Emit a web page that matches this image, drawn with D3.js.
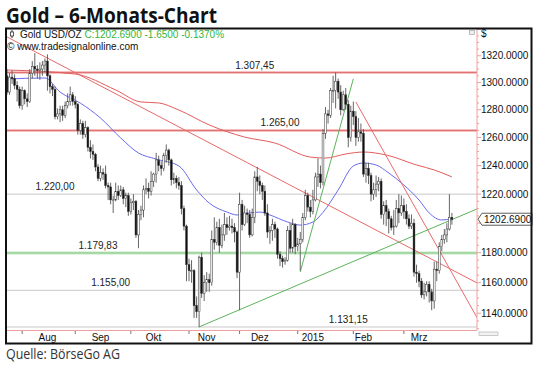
<!DOCTYPE html>
<html>
<head>
<meta charset="utf-8">
<script src="https://cdn.jsdelivr.net/npm/d3@7"></script>
<style>
body { margin: 0; background: #fff; }
svg { display: block; }
</style>
</head>
<body>
<svg id="drawing_region"></svg>
<script>
// trading days (weekdays) from 24 Jul 2014, incl. two empty weeks on the right
const tradingDays = [];
for (let t = Date.UTC(2014, 6, 24); t <= Date.UTC(2015, 3, 10); t += 864e5) {
    const wd = new Date(t).getUTCDay();
    if (wd !== 0 && wd !== 6) tradingDays.push(new Date(t).toISOString().slice(0, 10));
}

// daily bars: [open, high, low, close]
const bars = [
    [1305,1310,1291,1293],[1293,1307,1291,1304],[1304,1309,1299,1303],[1303,1306,1295,1298],[1298,1301,1286,1295],[1295,1297,1281,1283],
    [1283,1297,1280,1294],[1294,1295,1284,1288],[1288,1292,1282,1286],[1286,1310,1285,1307],[1307,1316,1303,1312],[1312,1322,1305,1310],
    [1310,1313,1303,1309],[1309,1315,1302,1310],[1310,1316,1305,1313],[1313,1318,1308,1316],[1316,1321,1294,1305],
    [1305,1306,1292,1297],[1297,1299,1290,1295],[1295,1297,1273,1275],[1275,1281,1273,1277],[1277,1283,1271,1280],
    [1280,1283,1272,1276],[1276,1286,1274,1283],[1283,1292,1281,1286],[1286,1297,1283,1291],[1291,1293,1283,1286],
    [1286,1290,1281,1284],[1284,1285,1262,1265],[1265,1273,1262,1270],[1270,1272,1259,1262],[1262,1272,1260,1267],
    [1267,1268,1250,1253],[1253,1258,1245,1250],[1250,1255,1244,1248],[1248,1249,1236,1239],[1239,1241,1229,1231],
    [1231,1240,1229,1235],[1235,1238,1230,1234],[1234,1240,1224,1226],[1226,1228,1216,1225],[1225,1228,1213,1216],
    [1216,1219,1207,1216],[1216,1228,1215,1222],[1222,1226,1216,1219],[1219,1226,1218,1223],[1223,1225,1213,1217],
    [1217,1221,1211,1219],[1219,1221,1205,1208],
    [1208,1217,1206,1214],[1214,1220,1209,1215],[1215,1216,1190,1192],
    [1192,1209,1183,1206],[1206,1212,1202,1209],[1209,1226,1204,1223],[1223,1231,1220,1224],[1224,1228,1217,1222],
    [1222,1236,1219,1229],[1229,1235,1225,1234],[1234,1249,1228,1244],[1244,1247,1236,1240],[1240,1243,1233,1238],
    [1238,1249,1236,1247],[1247,1255,1242,1251],[1251,1252,1240,1244],[1244,1245,1226,1230],[1230,1235,1227,1231],
    [1231,1233,1224,1228],[1228,1232,1223,1226],[1226,1229,1206,1210],[1210,1212,1195,1198],[1198,1199,1161,1172],
    [1172,1176,1161,1168],[1168,1175,1160,1168],[1168,1169,1137,1145],[1145,1151,1137,1141],[1141,1178,1131,1177],
    [1177,1180,1150,1153],[1153,1165,1148,1160],[1160,1167,1154,1162],[1162,1166,1154,1160],[1160,1195,1158,1189],
    [1189,1204,1182,1187],[1187,1201,1185,1197],[1197,1203,1180,1185],[1185,1199,1183,1192],[1192,1207,1188,1199],
    [1199,1204,1192,1197],[1197,1205,1195,1198],[1198,1203,1193,1197],[1197,1200,1187,1194],[1194,1195,1163,1167],
    [1167,1221,1142,1213],[1213,1216,1195,1199],[1199,1212,1198,1207],[1207,1210,1200,1206],[1206,1209,1190,1192],
    [1192,1210,1191,1204],[1204,1236,1200,1232],[1232,1239,1222,1229],[1229,1233,1220,1226],[1226,1228,1216,1222],
    [1222,1226,1205,1207],[1207,1213,1190,1194],[1194,1198,1186,1195],[1195,1203,1188,1199],[1199,1201,1190,1196],
    [1196,1197,1176,1179],[1179,1181,1171,1176],[1176,1178,1170,1174],[1174,1177,1172,1175],[1175,1198,1174,1195],
    [1195,1200,1180,1183],[1183,1203,1180,1199],[1199,1200,1179,1184],
    [1184,1190,1181,1186],[1186,1194,1168,1189],
    [1189,1207,1187,1204],[1204,1223,1202,1219],[1219,1221,1208,1211],[1211,1216,1204,1208],[1208,1223,1206,1216],
    [1216,1235,1215,1232],[1232,1245,1225,1234],[1234,1240,1224,1228],[1228,1266,1226,1263],[1263,1282,1259,1277],
    [1277,1280,1270,1276],[1276,1296,1274,1294],[1294,1305,1285,1294],[1294,1307.45,1281,1301],[1301,1303,1288,1293],
    [1293,1298,1276,1280],[1280,1294,1279,1291],[1291,1296,1280,1284],[1284,1287,1253,1260],[1260,1283,1257,1279],
    [1279,1286,1269,1275],[1275,1279,1254,1260],[1260,1274,1257,1264],[1264,1270,1257,1263],[1263,1266,1232,1234],
    [1234,1242,1228,1238],[1238,1242,1227,1233],[1233,1235,1215,1220],[1220,1228,1216,1223],[1223,1233,1218,1227],
    [1227,1232,1222,1229],[1229,1231,1203,1206],[1206,1215,1199,1212],[1212,1216,1198,1208],[1208,1210,1193,1203],
    [1203,1205,1195,1197],[1197,1209,1192,1198],[1198,1216,1197,1210],[1210,1220,1200,1207],[1207,1219,1205,1212],
    [1212,1217,1203,1208],[1208,1213,1199,1203],[1203,1206,1196,1198],[1198,1206,1196,1200],[1200,1203,1164,1167],
    [1167,1172,1160,1166],[1166,1168,1157,1161],[1161,1163,1150,1152],[1152,1160,1149,1154],[1154,1161,1151,1159],
    [1159,1161,1147,1154],[1154,1156,1142,1148],[1148,1174,1143,1169],[1169,1174,1161,1168],[1168,1187,1166,1184],
    [1184,1192,1181,1189],[1189,1196,1186,1192],[1192,1200,1187,1196],[1196,1220,1195,1204],[1204,1207,1199,1202.69]
];

// moving averages: [date, value]
const maShort = [
    ["2014-07-24",1302.6],["2014-08-14",1303.4],["2014-08-22",1293.0],["2014-09-03",1284.9],["2014-09-15",1274.0],
    ["2014-09-25",1259.6],["2014-10-06",1248.9],["2014-10-15",1244.6],["2014-10-28",1239.7],["2014-11-06",1222.9],
    ["2014-11-13",1213.8],["2014-11-24",1207.6],["2014-11-28",1205.6],["2014-12-05",1207.0],["2014-12-11",1207.6],
    ["2014-12-17",1205.6],["2014-12-26",1200.8],["2015-01-02",1198.7],["2015-01-09",1200.8],["2015-01-15",1207.4],
    ["2015-01-23",1222.9],["2015-02-02",1239.7],["2015-02-06",1241.8],["2015-02-13",1240.4],["2015-02-20",1234.8],
    ["2015-03-02",1226.3],["2015-03-10",1215.9],["2015-03-16",1207.0],["2015-03-23",1202.2],["2015-03-27",1202.9]
];
const maLong = [
    ["2014-07-24",1309.3],["2014-09-01",1306.3],["2014-09-23",1294.5],["2014-10-07",1285.7],["2014-10-16",1285.0],
    ["2014-10-28",1279.8],["2014-11-13",1269.0],["2014-12-03",1260.3],["2014-12-19",1256.0],["2015-01-08",1246.0],
    ["2015-01-16",1245.3],["2015-01-28",1248.2],["2015-02-06",1249.6],["2015-02-19",1247.5],["2015-03-09",1240.4],
    ["2015-03-18",1236.9],["2015-03-27",1232.0]
];

// horizontal levels
const levelValues = [1307.45, 1265.00, 1220.00, 1179.83, 1155.00, 1131.15];
const levelLabels = ["1.307,45", "1.265,00", "1.220,00", "1.179,83", "1.155,00", "1.131,15"];
const levelKinds  = ["red", "red", "gray", "green", "gray", "gray"];
const levelLabelDates = ["2014-12-09", "2014-12-23", "2014-08-20", "2014-09-12", "2014-09-19", "2015-01-29"];

// trend lines: [date, price] -> [date, price]
const trendLines = [
    [["2014-07-24",1334.2], ["2015-04-10",1159.8]],
    [["2015-02-03",1285.7], ["2015-04-10",1137.0]],
    [["2014-11-07",1131.2], ["2015-04-10",1209.8]],
    [["2015-01-02",1167.1], ["2015-02-02",1302.8]]
];
const trendKinds = ["red", "red", "green", "green"];

// 1200 sits under the last-price tag, so it is left out
const priceTicks = [1140, 1160, 1180, 1220, 1240, 1260, 1280, 1300, 1320];
const monthTickDates = ["2014-08-01","2014-09-01","2014-10-01","2014-11-03","2014-12-01","2015-01-01","2015-02-02","2015-03-02"];
const monthLabels = ["Aug", "Sep", "Okt", "Nov", "Dez", "2015", "Feb", "Mrz"];
const monthLabelDates = ["2014-08-15","2014-09-15","2014-10-14","2014-11-12","2014-12-11","2015-01-09","2015-02-06","2015-03-10"];
const lastClose = 1202.69;

var config = {
    parent: '#drawing_region',
    width: 540,
    height: 366,
    plot: {left: 6, right: 477, top: 28, bottom: 330}
};

class GoldChart {

    constructor( config ) {
        this.config = config;
        this.init();
    }

    init() {
        let self = this;
        let p = self.config.plot;

        self.svg = d3.select( self.config.parent )
            .attr('width', self.config.width)
            .attr('height', self.config.height)
            .style('font-family', 'Arial, "Liberation Sans", sans-serif');

        self.xscale = d3.scalePoint()
            .domain( tradingDays )
            .range( [7, 477.2] );

        self.yscale = d3.scaleLog()
            .domain( [1129.2, 1341] )
            .range( [p.bottom, p.top] );

        self.svg.append('clipPath').attr('id', 'plotclip')
            .append('rect')
            .attr('x', p.left).attr('y', p.top)
            .attr('width', p.right - p.left).attr('height', p.bottom - p.top);

        self.chart = self.svg.append('g').attr('clip-path', 'url(#plotclip)');
    }

    render() {
        let self = this;
        let p = self.config.plot;
        const x = self.xscale, y = self.yscale;

        // title + source
        self.svg.append('text')
            .attr('x', 6).attr('y', 23)
            .attr('textLength', 211).attr('lengthAdjust', 'spacingAndGlyphs')
            .style('font-family', '"Open Sans", sans-serif')
            .style('font-weight', 'bold').style('font-size', '22px')
            .attr('fill', '#111')
            .text('Gold – 6-Monats-Chart');

        self.svg.append('text')
            .attr('x', 6).attr('y', 359)
            .attr('textLength', 114).attr('lengthAdjust', 'spacingAndGlyphs')
            .style('font-family', '"Open Sans", sans-serif')
            .style('font-size', '15px')
            .attr('fill', '#333')
            .text('Quelle: BörseGo AG');

        // levels
        const levelColor = { red: ['#f5c0c0', '#e07474'], green: ['#c6e8c6', '#86c986'], gray: [null, '#c8c8c8'] };
        levelValues.forEach( (v, i) => {
            const c = levelColor[ levelKinds[i] ];
            if (c[0]) {
                self.chart.append('line')
                    .attr('x1', p.left).attr('x2', p.right)
                    .attr('y1', y(v)).attr('y2', y(v))
                    .attr('stroke', c[0]).attr('stroke-width', 3);
            }
            self.chart.append('line')
                .attr('x1', p.left).attr('x2', p.right)
                .attr('y1', y(v)).attr('y2', y(v))
                .attr('stroke', c[1]).attr('stroke-width', 1);
            self.chart.append('text')
                .attr('x', x(levelLabelDates[i])).attr('y', y(v) - 4)
                .attr('text-anchor', 'middle')
                .style('font-size', '10px')
                .attr('fill', '#222')
                .text(levelLabels[i]);
        });

        // moving averages
        const maLine = d3.line()
            .x( d => x(d[0]) )
            .y( d => y(d[1]) )
            .curve( d3.curveMonotoneX );

        self.chart.append('path')
            .attr('d', maLine(maLong))
            .attr('fill', 'none').attr('stroke', '#e25c5c').attr('stroke-width', 1);

        self.chart.append('path')
            .attr('d', maLine(maShort))
            .attr('fill', 'none').attr('stroke', '#6a6aec').attr('stroke-width', 1);

        // trend lines
        const trendColor = { red: '#e86a6a', green: '#5cb35c' };
        self.chart.selectAll('line.trend')
            .data(trendLines)
            .join('line')
            .attr('class', 'trend')
            .attr('x1', d => x(d[0][0])).attr('y1', d => y(d[0][1]))
            .attr('x2', d => x(d[1][0])).attr('y2', d => y(d[1][1]))
            .attr('stroke', (d, i) => trendColor[ trendKinds[i] ])
            .attr('stroke-width', 1);

        // candles
        const candle = self.chart.selectAll('g.bar')
            .data(bars)
            .join('g')
            .attr('class', 'bar')
            .attr('transform', (d, i) => `translate(${x(tradingDays[i])},0)`);

        candle.append('line')
            .attr('y1', d => y(d[1])).attr('y2', d => y(d[2]))
            .attr('stroke', '#555').attr('stroke-width', 0.9);

        candle.append('rect')
            .attr('x', -0.9).attr('width', 1.8)
            .attr('y', d => y(Math.max(d[0], d[3])))
            .attr('height', d => Math.max(0.8, Math.abs(y(d[0]) - y(d[3]))))
            .attr('fill', d => d[3] >= d[0] ? '#fff' : '#111')
            .attr('stroke', '#333').attr('stroke-width', 0.5);

        // legend
        self.svg.append('line')
            .attr('x1', 12).attr('x2', 12).attr('y1', 30).attr('y2', 38)
            .attr('stroke', '#333');
        self.svg.append('rect')
            .attr('x', 10.5).attr('y', 32).attr('width', 3).attr('height', 4)
            .attr('fill', '#fff').attr('stroke', '#333').attr('stroke-width', 0.8);
        const legend = self.svg.append('text')
            .attr('x', 20).attr('y', 37.5)
            .style('font-size', '10px');
        legend.append('tspan').attr('fill', '#111').text('Gold USD/OZ ');
        legend.append('tspan').attr('fill', '#35b535').text('C:1202.6900 -1.6500 -0.1370%');

        self.svg.append('text')
            .attr('x', 7).attr('y', 50)
            .style('font-size', '10px')
            .attr('fill', '#111')
            .text('© www.tradesignalonline.com');

        // price axis
        self.svg.append('line')
            .attr('x1', p.right).attr('x2', p.right)
            .attr('y1', p.top).attr('y2', p.bottom)
            .attr('stroke', '#eea0a0').attr('stroke-width', 1);

        const minor = d3.range(1130, 1341, 5);
        self.svg.selectAll('line.minor')
            .data(minor)
            .join('line')
            .attr('class', 'minor')
            .attr('x1', p.right).attr('x2', d => p.right + (d % 20 === 0 ? 4 : 2))
            .attr('y1', d => y(d)).attr('y2', d => y(d))
            .attr('stroke', '#eea0a0');

        self.svg.selectAll('text.ptick')
            .data(priceTicks)
            .join('text')
            .attr('class', 'ptick')
            .attr('x', 481).attr('y', d => y(d) + 3.5)
            .style('font-size', '10px')
            .attr('fill', '#111')
            .text(d => d3.format('.4f')(d));

        self.svg.append('text')
            .attr('x', 481).attr('y', 37)
            .style('font-size', '10px')
            .attr('fill', '#111')
            .text('$');

        // last price tag
        const yc = y(lastClose);
        self.svg.append('path')
            .attr('d', `M${p.right + 1},${yc} L${p.right + 5},${yc - 6} L532,${yc - 6} L532,${yc + 6} L${p.right + 5},${yc + 6} Z`)
            .attr('fill', '#fff').attr('stroke', '#333').attr('stroke-width', 0.8);
        self.svg.append('text')
            .attr('x', 484).attr('y', yc + 3.5)
            .style('font-size', '10px')
            .attr('fill', '#111')
            .text(d3.format('.4f')(lastClose));

        // time axis
        self.svg.append('line')
            .attr('x1', p.left).attr('x2', p.right)
            .attr('y1', p.bottom + 0.5).attr('y2', p.bottom + 0.5)
            .attr('stroke', '#eea0a0');

        self.svg.selectAll('line.xtick')
            .data(monthTickDates)
            .join('line')
            .attr('class', 'xtick')
            .attr('x1', d => x(d)).attr('x2', d => x(d))
            .attr('y1', p.bottom + 1).attr('y2', p.bottom + 4)
            .attr('stroke', '#777');

        self.svg.selectAll('text.xlabel')
            .data(monthLabels)
            .join('text')
            .attr('class', 'xlabel')
            .attr('x', (d, i) => x(monthLabelDates[i]))
            .attr('y', 341)
            .attr('text-anchor', 'middle')
            .style('font-size', '10px')
            .attr('fill', '#111')
            .text(d => d);

        // small widgets
        self.svg.append('rect')
            .attr('x', 469.5).attr('y', 30.5).attr('width', 5).attr('height', 4)
            .attr('fill', '#eee').attr('stroke', '#999').attr('stroke-width', 0.6);
        self.svg.append('rect')
            .attr('x', 479).attr('y', 332).attr('width', 19).attr('height', 3.5)
            .attr('fill', '#f2f2f2').attr('stroke', '#aaa').attr('stroke-width', 0.6);

        // frame
        self.svg.append('rect')
            .attr('x', 6).attr('y', 28.5)
            .attr('width', 525.5).attr('height', 315)
            .attr('fill', 'none').attr('stroke', '#111').attr('stroke-width', 2);
    }
}

const goldchart = new GoldChart( config );
goldchart.render();
</script>
</body>
</html>
